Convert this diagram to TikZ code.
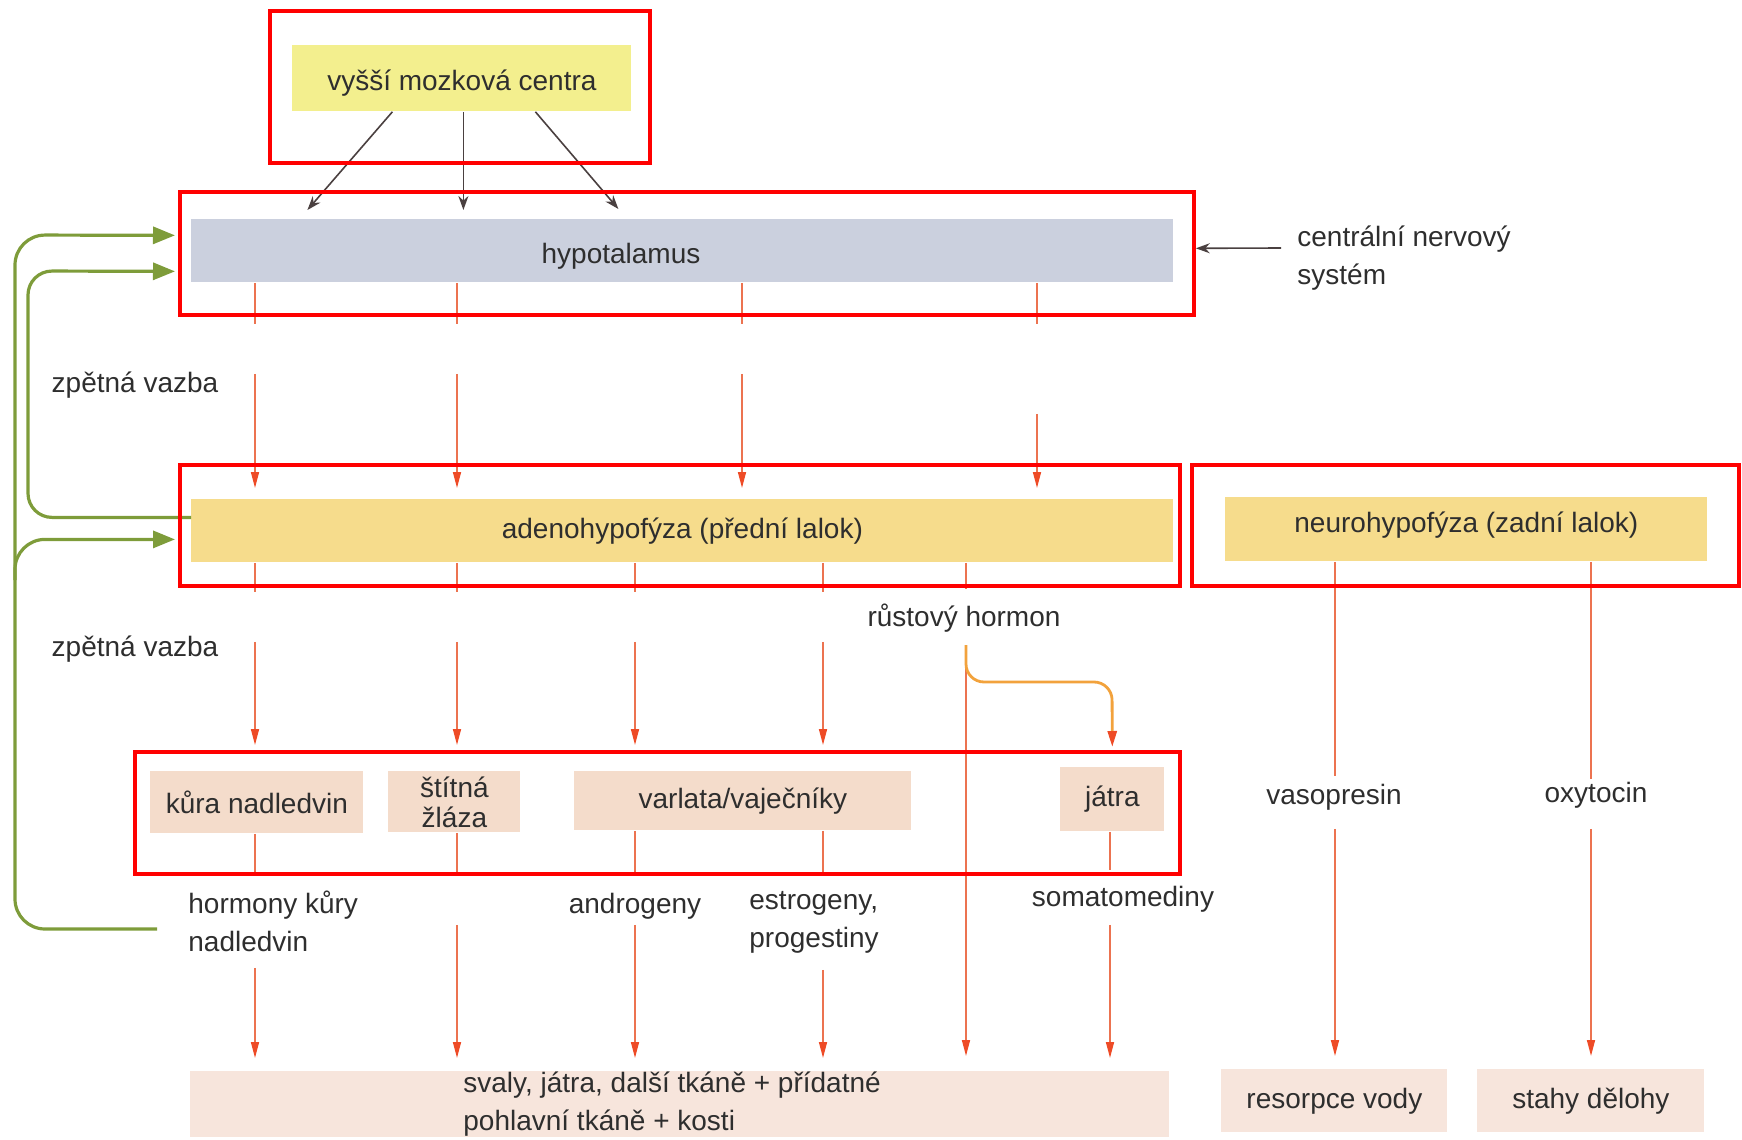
\documentclass[tikz,border=0pt]{standalone}
\usepackage{fontspec}
\setmainfont{Liberation Sans}
\usepackage{xcolor}
\usetikzlibrary{arrows.meta}
\definecolor{pismo}{HTML}{2E2E2E}
\definecolor{zluta}{HTML}{F3EF8E}
\definecolor{modra}{HTML}{CBD0DE}
\definecolor{oranzova}{HTML}{F6DC8C}
\definecolor{telova}{HTML}{F4DCCB}
\definecolor{svetla}{HTML}{F7E5DC}
\definecolor{zelena}{HTML}{7E9C3A}
\definecolor{linka}{HTML}{EC7350}
\definecolor{hrot}{HTML}{EE4B26}
\definecolor{tmava}{HTML}{4A4040}
\definecolor{ohyb}{HTML}{F2A23C}

\begin{document}
\begin{tikzpicture}[x=0.5pt, y=-0.5pt,
  box/.style={anchor=north west, inner sep=0pt, text=pismo, font=\fontsize{14}{19}\selectfont},
  popis/.style={inner sep=0pt, text=pismo, font=\fontsize{14}{19}\selectfont},
  hormon/.style={draw=linka, line width=0.8pt, -{Triangle[length=8pt,width=4pt,color=hrot]}},
  nerv/.style={draw=tmava, line width=0.8pt, -{Stealth[length=7pt,width=5pt]}},
  zpetna/.style={draw=zelena, line width=1.6pt, -{Triangle[length=11pt,width=8.5pt]}, shorten >=8pt},
  ramecek/.style={draw=red, line width=2.2pt}] % 1 px = 0.5 pt
\useasboundingbox (0,0) rectangle (1742,1140);

% bloky
\node[box, fill=zluta, minimum width=169.5pt, minimum height=33pt, text height=15pt, text depth=3pt] (mozek) at (292,45) {vyšší mozková centra};
\node[box, fill=modra, minimum width=491pt, minimum height=31.5pt] (hyp) at (191,219) {};
\node[popis] (hyptext) at (621,256.5) {hypotalamus};
\node[box, fill=oranzova, minimum width=491pt, minimum height=31.5pt] (adeno) at (191,499) {adenohypofýza (přední lalok)};
\node[box, fill=oranzova, minimum width=241pt, minimum height=32pt, text depth=7pt] (neuro) at (1225,497) {neurohypofýza (zadní lalok)};
\node[box, fill=telova, minimum width=106.5pt, minimum height=31pt] (kura) at (150,771) {kůra nadledvin};
\node[box, fill=telova, minimum width=66pt, minimum height=30.5pt, align=center, font=\fontsize{14}{15}\selectfont] (stitna) at (388,771) {štítná\\žláza};
\node[box, fill=telova, minimum width=168.5pt, minimum height=29.5pt] (varlata) at (574,771) {varlata/vaječníky};
\node[box, fill=telova, minimum width=52pt, minimum height=32pt] (jatra) at (1060,767) {játra};
\node[box, fill=svetla, minimum width=489.5pt, minimum height=33pt] (tkane) at (190,1071) {};
\node[popis, anchor=west, align=left] (tkanetext) at (463,1104) {svaly, játra, další tkáně + přídatné\\pohlavní tkáně + kosti};
\node[box, fill=svetla, minimum width=113pt, minimum height=31.5pt] (resorpce) at (1221,1069) {resorpce vody};
\node[box, fill=svetla, minimum width=113.5pt, minimum height=31.5pt] (stahy) at (1477,1069) {stahy dělohy};

% popisky
\node[popis, anchor=west, align=left] (cns) at (1297,258) {centrální nervový\\systém};
\node[popis] (zv1) at (135,385) {zpětná vazba};
\node[popis] (zv2) at (135,649) {zpětná vazba};
\node[popis] (rust) at (964,618) {růstový hormon};
\node[popis, anchor=west, align=left] (hkury) at (188,921) {hormony kůry\\nadledvin};
\node[popis] (androg) at (635,906) {androgeny};
\node[popis, anchor=west, align=left] (estro) at (749,922) {estrogeny,\\progestiny};
\node[popis] (somato) at (1123,899) {somatomediny};
\node[popis] (vaso) at (1334,797) {vasopresin};
\node[popis] (oxy) at (1596,795) {oxytocin};

\foreach \n/\x in {a/255, b/457, c/742, d/1037, e/635, f/823, g/966, h/1110, i/1335, j/1591}
  \coordinate (s\n) at (\x,0);

% mozek -> hypotalamus, CNS
\draw[nerv] ([xshift=-34.75pt]mozek.south) -- ([xshift=-187.5pt,yshift=4.5pt]hyp.north);
\draw[nerv] ([xshift=0.75pt]mozek.south) -- ([xshift=-109.5pt,yshift=4.5pt]hyp.north);
\draw[nerv] ([xshift=36.75pt]mozek.south) -- ([xshift=-32pt,yshift=5pt]hyp.north);
\draw[nerv, shorten >=11pt] ([xshift=-8pt,yshift=5pt]cns.west) -- ([yshift=1.25pt]hyp.east);

% hypotalamus -> adenohypofyza
\foreach \n in {a,b,c}
  \draw[hormon, dash pattern=on 20.5pt off 25pt on 300pt, shorten >=5.5pt] (hyp.south -| s\n) -- (adeno.north -| s\n);
\draw[hormon, dash pattern=on 20.5pt off 45pt on 300pt, shorten >=5.5pt] (hyp.south -| sd) -- (adeno.north -| sd);

% adenohypofyza -> zlazy
\draw[hormon, dash pattern=on 14.5pt off 25pt on 300pt, shorten >=13pt] (adeno.south -| sa) -- (kura.north -| sa);
\draw[hormon, dash pattern=on 14.5pt off 25pt on 300pt, shorten >=13pt] (adeno.south -| sb) -- (stitna.north -| sb);
\draw[hormon, dash pattern=on 14.5pt off 25pt on 300pt, shorten >=13pt] (adeno.south -| se) -- (varlata.north -| se);
\draw[hormon, dash pattern=on 14.5pt off 25pt on 300pt, shorten >=13pt] (adeno.south -| sf) -- (varlata.north -| sf);
\draw[hormon, dash pattern=on 13pt off 28.5pt on 600pt, shorten >=7.5pt] (adeno.south -| sg) -- (tkane.north -| sg);
\coordinate (odbocka) at (966,645);
\coordinate (ohb) at (1112,682);
\draw[draw=ohyb, line width=1.4pt, rounded corners=9pt, -{Triangle[length=8pt,width=4.5pt,color=hrot]}, shorten >=10pt]
  (odbocka) -- (odbocka |- ohb) -- (ohb) -- (jatra.north);

% zlazy -> tkane
\draw[hormon, dash pattern=on 19pt off 48pt on 300pt, shorten >=6.5pt] (kura.south -| sa) -- (tkane.north -| sa);
\draw[hormon, dash pattern=on 20pt off 26pt on 300pt, shorten >=6.5pt] (stitna.south -| sb) -- (tkane.north -| sb);
\draw[hormon, dash pattern=on 21pt off 26pt on 300pt, shorten >=6.5pt] (varlata.south -| se) -- (tkane.north -| se);
\draw[hormon, dash pattern=on 21pt off 48.5pt on 300pt, shorten >=6.5pt] (varlata.south -| sf) -- (tkane.north -| sf);
\draw[hormon, dash pattern=on 19pt off 27.5pt on 300pt, shorten >=6.5pt] (jatra.south -| sh) -- (tkane.north -| sh);

% neurohypofyza
\draw[hormon, dash pattern=on 107pt off 26.5pt on 300pt, shorten >=6.5pt] (neuro.south -| si) -- (resorpce.north -| si);
\draw[hormon, dash pattern=on 108.5pt off 25pt on 300pt, shorten >=6.5pt] (neuro.south -| sj) -- (stahy.north -| sj);

% zpetna vazba
\coordinate (zvstart) at (157,929);
\coordinate (rohA) at (15,235);
\coordinate (vetev) at (15,580);
\coordinate (rohB) at (28,271);
\draw[zpetna, rounded corners=15pt] (zvstart) -| (rohA) -- ([yshift=7.75pt]hyp.west);
\draw[zpetna, rounded corners=15pt] (vetev) |- ([yshift=-4.25pt]adeno.west);
\draw[zpetna, rounded corners=12pt] ([yshift=6.75pt]adeno.west) -| (rohB) -- ([yshift=-10.25pt]hyp.west);

% cervene ramecky
\draw[ramecek] (270,11) rectangle (650,163);
\draw[ramecek] (180,192) rectangle (1194,315);
\draw[ramecek] (180,465) rectangle (1180,586);
\draw[ramecek] (1192,465) rectangle (1739,586);
\draw[ramecek] (135,752) rectangle (1180,874);
\end{tikzpicture}
\end{document}
